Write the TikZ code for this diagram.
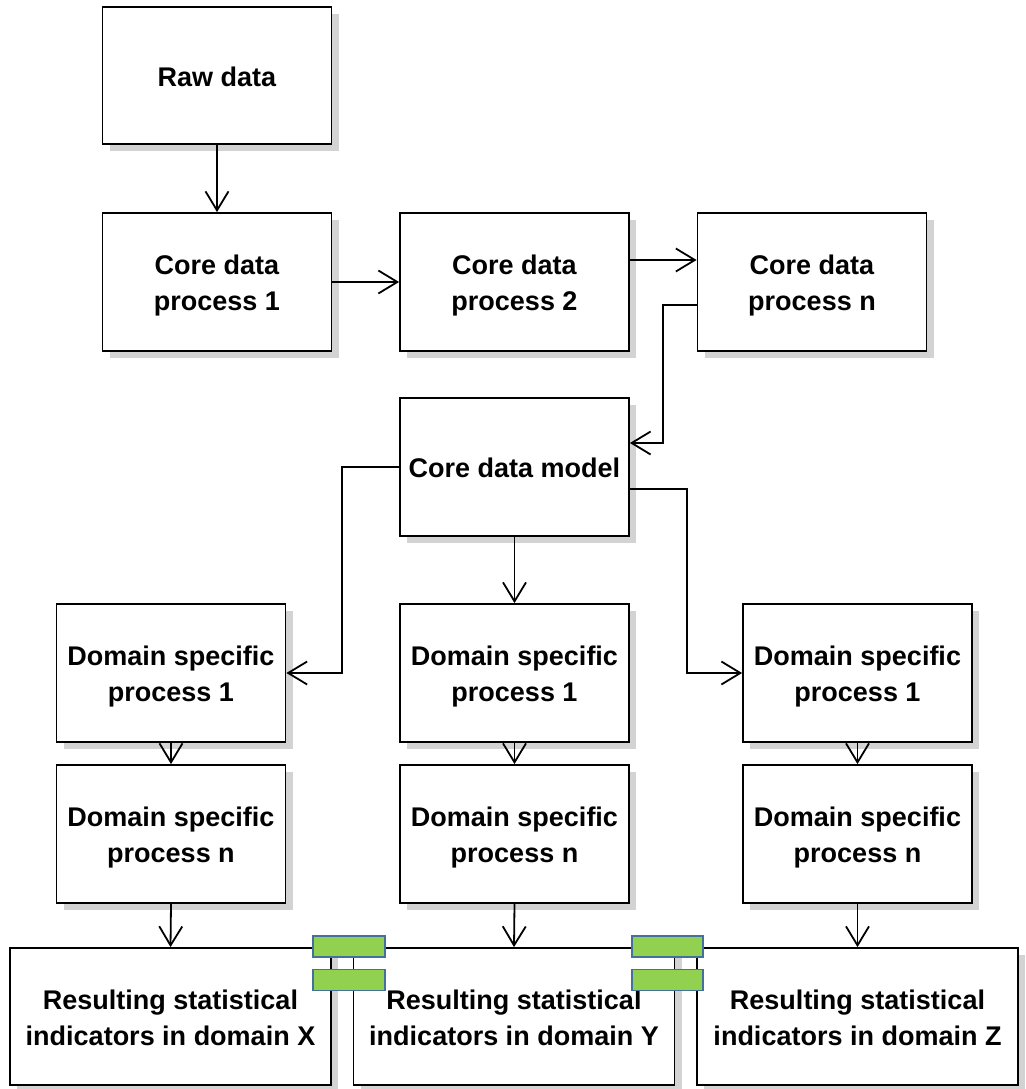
\documentclass[tikz,border=0pt]{standalone}
\usepackage{fontspec}
\setmainfont{Liberation Sans}
\usetikzlibrary{arrows.meta,shadows}
\definecolor{shadowgray}{RGB}{211,211,211}
\definecolor{tabgreen}{RGB}{146,208,80}
\definecolor{tabblue}{RGB}{65,113,156}
\newcommand\boxtext[1]{\raisebox{-3.5pt}[\height][\depth]{\begin{tabular}{@{}c@{}}#1\end{tabular}}}
\tikzset{
  box/.style={draw=black, fill=white, line width=1.8pt, inner sep=0pt,
    minimum width=229pt, minimum height=138pt,
    font=\fontsize{27}{36}\selectfont\bfseries,
    general shadow={fill=shadowgray, shadow xshift=7pt, shadow yshift=-7pt}},
  widebox/.style={box, minimum width=321pt, minimum height=137pt},
  arr/.style={draw=black, line width=1.8pt,
    -{Straight Barb[length=19pt,width=23pt,line width=1.8pt]}},
  tab/.style={draw=tabblue, fill=tabgreen, line width=1.8pt, inner sep=0pt,
    minimum height=21pt}
}
\begin{document}
\begin{tikzpicture}[x=1pt,y=-1pt]
\useasboundingbox[fill=white] (0,0) rectangle (1025,1089);
% boxes
\node[box, minimum height=137pt] (raw) at (217,75.5) {\boxtext{Raw data}};
\node[box] (cdp1) at (217,282) {\boxtext{Core data\\process 1}};
\node[box] (cdp2) at (514.5,282) {\boxtext{Core data\\process 2}};
\node[box] (cdpn) at (812,282) {\boxtext{Core data\\process n}};
\node[box] (cdm) at (514.5,467) {\boxtext{Core data model}};
\node[box] (dspL1) at (171,673) {\boxtext{Domain specific\\process 1}};
\node[box] (dspLn) at (171,834) {\boxtext{Domain specific\\process n}};
\node[box] (dspM1) at (514.5,673) {\boxtext{Domain specific\\process 1}};
\node[box] (dspMn) at (514.5,834) {\boxtext{Domain specific\\process n}};
\node[box] (dspR1) at (857.5,673) {\boxtext{Domain specific\\process 1}};
\node[box] (dspRn) at (857.5,834) {\boxtext{Domain specific\\process n}};
\node[widebox] (resX) at (170.5,1016.5) {\boxtext{Resulting statistical\\indicators in domain X}};
\node[widebox] (resY) at (514,1016.5) {\boxtext{Resulting statistical\\indicators in domain Y}};
\node[widebox] (resZ) at (857.5,1016.5) {\boxtext{Resulting statistical\\indicators in domain Z}};
% connectors
\draw[arr] (raw.south) -- (cdp1.north);
\draw[arr] (cdp1.east) -- (cdp2.west);
\draw[arr] ([yshift=22pt]cdp2.east) -- ([yshift=22pt]cdpn.west);
\draw[arr] ([yshift=-23pt]cdpn.west) -- ++(-34,0) |- ([yshift=24pt]cdm.east);
\draw[arr] (cdm.west) -- ++(-57,0) |- (dspL1.east);
\draw[arr] (cdm.south) -- (dspM1.north);
\draw[arr] ([yshift=-22pt]cdm.east) -- ++(57,0) |- (dspR1.west);
\draw[arr] (dspL1.south) -- (dspLn.north);
\draw[arr] (dspM1.south) -- (dspMn.north);
\draw[arr] (dspR1.south) -- (dspRn.north);
\draw[arr] (dspLn.south) -- (resX.north);
\draw[arr] (dspMn.south) -- (resY.north);
\draw[arr] (dspRn.south) -- (resZ.north);
% green tabs
\node[tab, minimum width=72pt] (t1a) at (349,946.5) {};
\node[tab, minimum width=72pt] (t1b) at (349,980) {};
\node[tab, minimum width=71pt] (t2a) at (667.5,946.5) {};
\node[tab, minimum width=71pt] (t2b) at (667.5,980) {};
\end{tikzpicture}
\end{document}
